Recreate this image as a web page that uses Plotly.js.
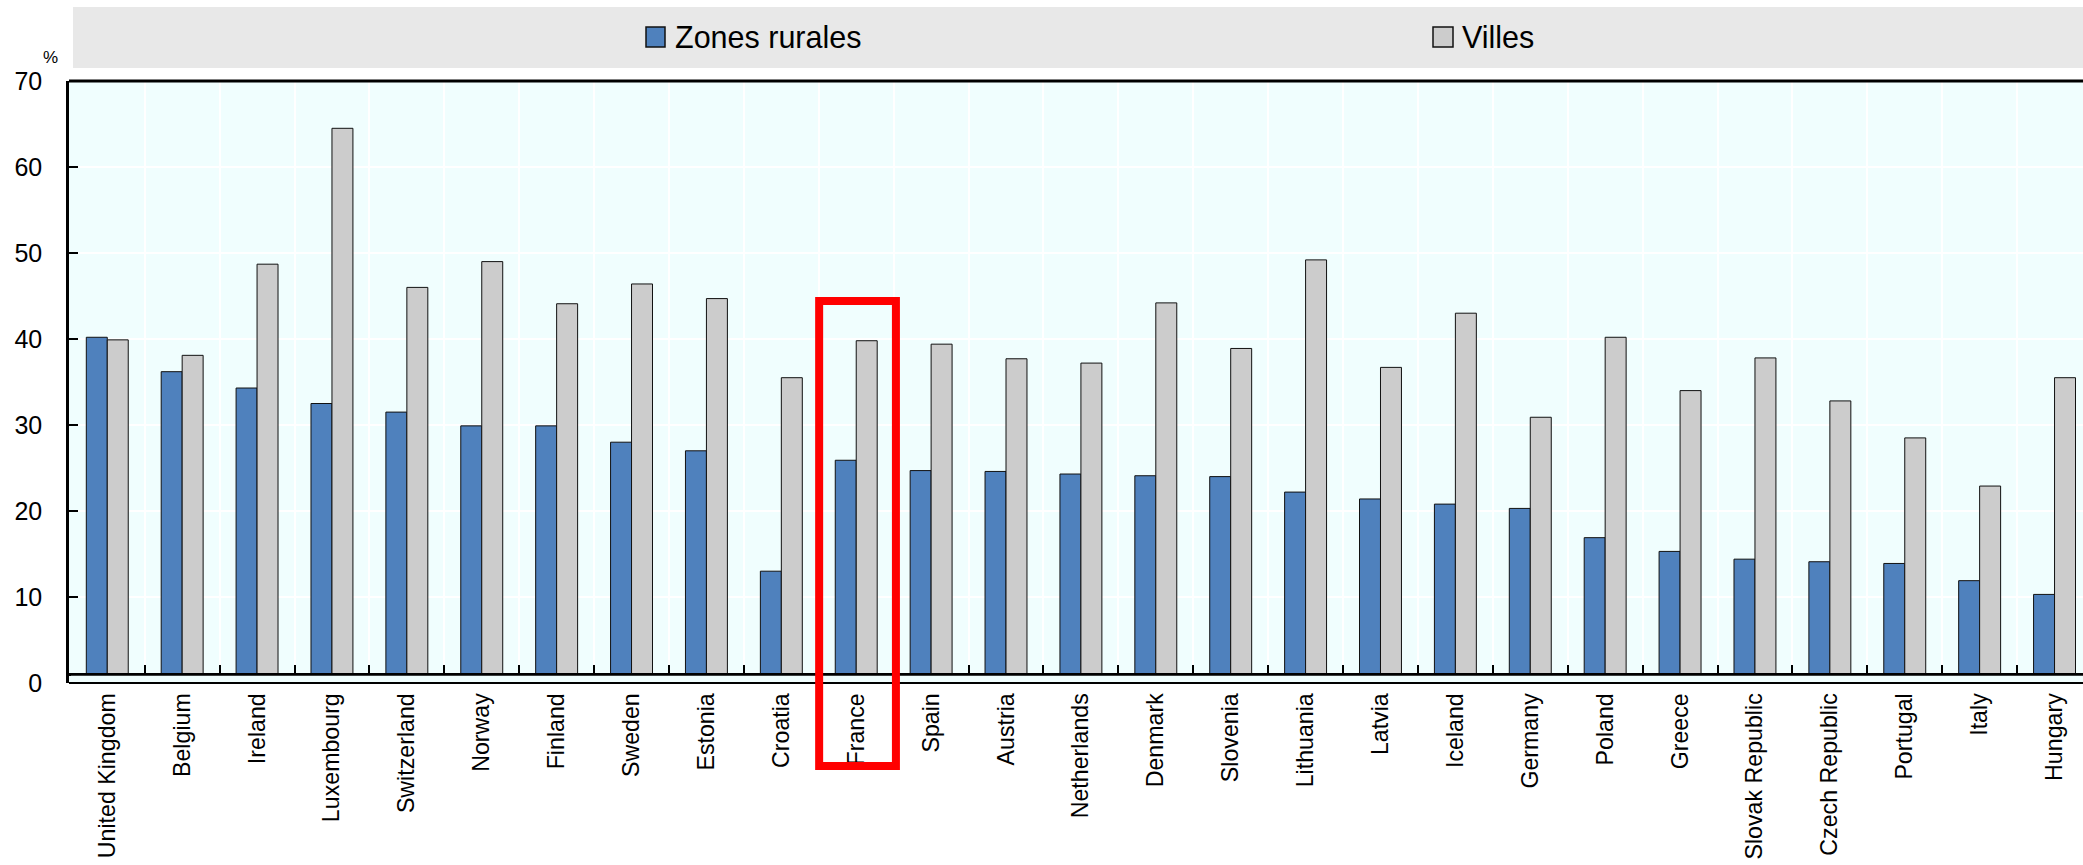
<!DOCTYPE html>
<html>
<head>
<meta charset="utf-8">
<script src="https://cdn.plot.ly/plotly-3.0.1.min.js"></script>
<style>
  html, body { margin: 0; padding: 0; background: #ffffff; }
  #chart { width: 2083px; height: 865px; }
</style>
</head>
<body>
<div id="chart"></div>
<script>
// ---- Data ----
const categories = [
  "United Kingdom", "Belgium", "Ireland", "Luxembourg", "Switzerland", "Norway",
  "Finland", "Sweden", "Estonia", "Croatia", "France", "Spain", "Austria",
  "Netherlands", "Denmark", "Slovenia", "Lithuania", "Latvia", "Iceland",
  "Germany", "Poland", "Greece", "Slovak Republic", "Czech Republic",
  "Portugal", "Italy", "Hungary"
];
const seriesNames = ["Zones rurales", "Villes"];
const ruralValues = [
  40.2, 36.2, 34.3, 32.5, 31.5, 29.9,
  29.9, 28.0, 27.0, 13.0, 25.9, 24.7, 24.6,
  24.3, 24.1, 24.0, 22.2, 21.4, 20.8,
  20.3, 16.9, 15.3, 14.4, 14.1,
  13.9, 11.9, 10.3
];
const villesValues = [
  39.9, 38.1, 48.7, 64.5, 46.0, 49.0,
  44.1, 46.4, 44.7, 35.5, 39.8, 39.4, 37.7,
  37.2, 44.2, 38.9, 49.2, 36.7, 43.0,
  30.9, 40.2, 34.0, 37.8, 32.8,
  28.5, 22.9, 35.5
];
const yTickValues = [0, 10, 20, 30, 40, 50, 60, 70];
const yUnitLabel = "%";
const highlightCategory = "France";

// ---- Styling ----
const SANS = "'Liberation Sans', Arial, Helvetica, sans-serif";
const PLOT_BG = "#f0fefe";
const RURAL_COLOR = "#4f81bd";
const VILLES_COLOR = "#cccccc";

const traces = [
  {
    type: "bar", name: seriesNames[0], x: categories, y: ruralValues,
    marker: { color: RURAL_COLOR, line: { color: "#111111", width: 1 } },
    hoverinfo: "x+y+name"
  },
  {
    type: "bar", name: seriesNames[1], x: categories, y: villesValues,
    marker: { color: VILLES_COLOR, line: { color: "#111111", width: 1 } },
    hoverinfo: "x+y+name"
  }
];

const hiIdx = categories.indexOf(highlightCategory);

const layout = {
  width: 2083, height: 865,
  margin: { l: 69, r: 0, t: 81, b: 182, pad: 0 },
  paper_bgcolor: "#ffffff",
  plot_bgcolor: PLOT_BG,
  showlegend: false,
  barmode: "group",
  bargap: 0.44,
  bargroupgap: 0,
  xaxis: {
    type: "category",
    range: [-0.511, 26.38],
    anchor: "free",
    position: 0.015,
    showline: true, linecolor: "#000000", linewidth: 3,
    ticks: "inside", ticklen: 8, tickwidth: 2, tickcolor: "#000000",
    tickson: "boundaries",
    showgrid: true, gridcolor: "#ffffff", gridwidth: 2,
    tickangle: -90,
    tickfont: { family: SANS, size: 23.2, color: "#000000" },
    ticklabelstandoff: 8,
    zeroline: false,
    fixedrange: true
  },
  yaxis: {
    range: [0, 70],
    tickmode: "array", tickvals: yTickValues,
    showline: true, linecolor: "#000000", linewidth: 2.5,
    ticks: "inside", ticklen: 9, tickwidth: 2, tickcolor: "#000000",
    showgrid: true, gridcolor: "#ffffff", gridwidth: 1.5,
    zeroline: false,
    tickfont: { family: SANS, size: 25, color: "#000000" },
    ticklabelstandoff: 19,
    fixedrange: true
  },
  shapes: [
    // legend band
    { type: "rect", xref: "paper", yref: "paper",
      xsizemode: "pixel", xanchor: 0, x0: 4, x1: 2030,
      ysizemode: "pixel", yanchor: 1, y0: 13, y1: 74,
      fillcolor: "#e8e8e8", line: { width: 0 }, layer: "below" },
    // strip under the category axis line
    { type: "rect", xref: "paper", yref: "y", x0: 0.001, x1: 1, y0: 0, y1: 0.85,
      fillcolor: PLOT_BG, line: { width: 0 }, layer: "above" },
    // bottom frame
    { type: "line", xref: "paper", yref: "paper", x0: 0, x1: 1, y0: 0, y1: 0,
      line: { color: "#000000", width: 2 }, layer: "above" },
    // top frame
    { type: "line", xref: "paper", yref: "paper", x0: 0, x1: 1, y0: 1, y1: 1,
      line: { color: "#000000", width: 3 }, layer: "above" },
    // legend swatches
    { type: "rect", xref: "paper", yref: "paper",
      xsizemode: "pixel", xanchor: 0, x0: 577, x1: 596,
      ysizemode: "pixel", yanchor: 1, y0: 34, y1: 54,
      fillcolor: RURAL_COLOR, line: { color: "#111111", width: 1.5 } },
    { type: "rect", xref: "paper", yref: "paper",
      xsizemode: "pixel", xanchor: 0, x0: 1364, x1: 1384,
      ysizemode: "pixel", yanchor: 1, y0: 34, y1: 54,
      fillcolor: VILLES_COLOR, line: { color: "#111111", width: 1.5 } },
    // highlight box around France
    { type: "rect", xref: "x", yref: "paper",
      x0: hiIdx - 0.495, x1: hiIdx + 0.53, y0: -0.138, y1: 0.6346,
      line: { color: "#ff0000", width: 8 }, fillcolor: "rgba(0,0,0,0)", layer: "above" }
  ],
  annotations: [
    { text: seriesNames[0], xref: "paper", yref: "paper", x: 0, y: 1,
      xshift: 604, yshift: 44, xanchor: "left", yanchor: "middle",
      showarrow: false, font: { family: SANS, size: 30.5, color: "#000000" } },
    { text: seriesNames[1], xref: "paper", yref: "paper", x: 0, y: 1,
      xshift: 1391, yshift: 44, xanchor: "left", yanchor: "middle",
      showarrow: false, font: { family: SANS, size: 30.5, color: "#000000" } },
    { text: yUnitLabel, xref: "paper", yref: "paper", x: 0, y: 1,
      xshift: -19, yshift: 24, xanchor: "center", yanchor: "middle",
      showarrow: false, font: { family: SANS, size: 17, color: "#000000" } }
  ]
};

Plotly.newPlot("chart", traces, layout, { displayModeBar: false, responsive: false });
</script>
</body>
</html>
